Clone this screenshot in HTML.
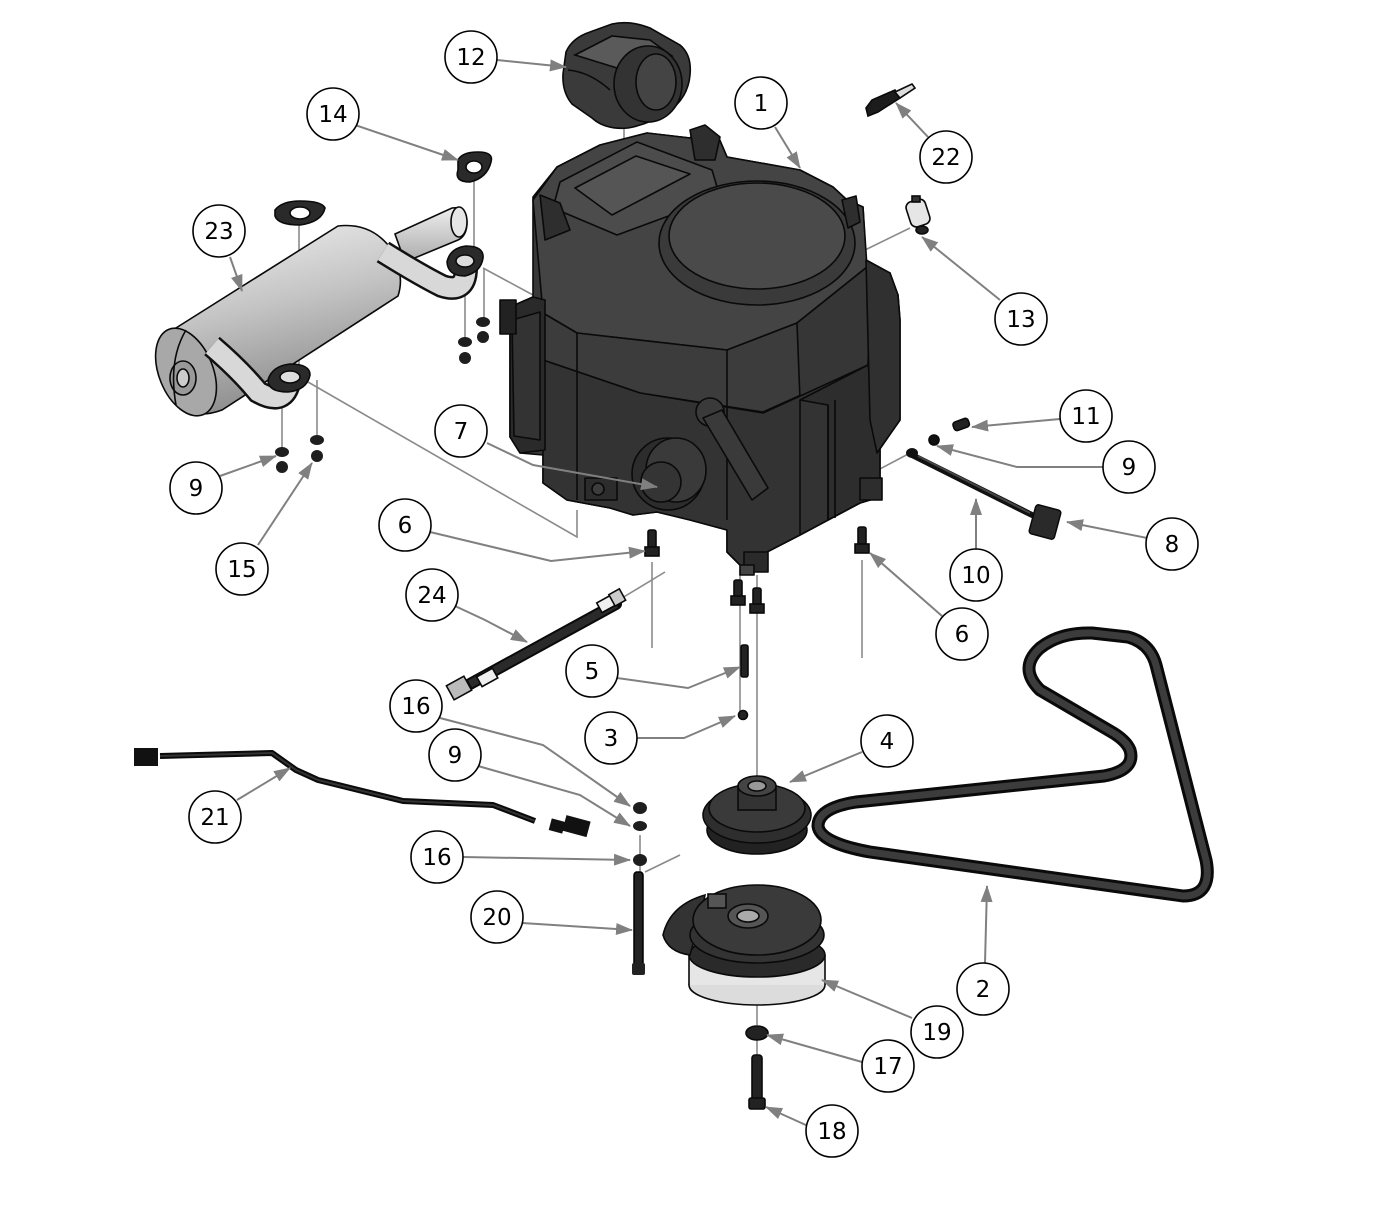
<!DOCTYPE html>
<html><head><meta charset="utf-8"><style>
html,body{margin:0;padding:0;background:#fff;}
svg{display:block;}
.c{fill:#fff;stroke:#000;stroke-width:1.6;}
.t{font-family:"DejaVu Sans","Liberation Sans",sans-serif;font-size:23px;fill:#000;text-anchor:middle;dominant-baseline:central;}
.ld{fill:none;stroke:#808080;stroke-width:2;}
.al{fill:none;stroke:#8a8a8a;stroke-width:1.6;}
.k{stroke:#0a0a0a;stroke-width:1.6;}
</style></head><body>
<svg width="1400" height="1211" viewBox="0 0 1400 1211" xmlns="http://www.w3.org/2000/svg">
<defs>
<marker id="a" markerWidth="18" markerHeight="12" refX="16" refY="6" orient="auto" markerUnits="userSpaceOnUse">
<path d="M0,0 L17,6 L0,12 Z" fill="#808080"/>
</marker>
<linearGradient id="mg" x1="0" y1="0" x2="0.3" y2="1">
<stop offset="0" stop-color="#f2f2f2"/><stop offset="0.5" stop-color="#c4c4c4"/><stop offset="1" stop-color="#8c8c8c"/>
</linearGradient>
<linearGradient id="pg" x1="0" y1="0" x2="0" y2="1">
<stop offset="0" stop-color="#eee"/><stop offset="1" stop-color="#aaa"/>
</linearGradient>
</defs>

<!-- assembly lines -->
<g class="al">
<line x1="624" y1="124" x2="624" y2="176"/>
<line x1="299" y1="224" x2="299" y2="368"/>
<line x1="474" y1="180" x2="474" y2="255"/>
<line x1="465" y1="274" x2="465" y2="342"/>
<line x1="484" y1="268" x2="484" y2="322"/>
<line x1="483" y1="268" x2="533" y2="295"/>
<line x1="282" y1="388" x2="282" y2="450"/>
<line x1="317" y1="380" x2="317" y2="438"/>
<polyline points="308,382 577,537 577,510"/>
<line x1="865" y1="250" x2="910" y2="228"/>
<line x1="878" y1="470" x2="912" y2="452"/>
<line x1="652" y1="562" x2="652" y2="648"/>
<line x1="862" y1="560" x2="862" y2="658"/>
<line x1="740" y1="570" x2="740" y2="712"/>
<line x1="757" y1="575" x2="757" y2="790"/>
<line x1="622" y1="598" x2="665" y2="572"/>
<line x1="640" y1="835" x2="640" y2="872"/>
<line x1="645" y1="872" x2="680" y2="855"/>
<line x1="757" y1="1003" x2="757" y2="1025"/>
<line x1="757" y1="1040" x2="757" y2="1055"/>
</g>

<!-- Part 12 -->
<g class="k">
<path d="M566,52 Q572,38 590,32 L612,24 Q630,20 650,28 L680,45 Q692,55 690,75 Q688,98 668,112 Q650,124 628,128 Q605,130 592,118 L572,104 Q562,92 563,74 Z" fill="#3a3a3a"/>
<path d="M575,55 L612,36 L650,40 L672,56 L630,72 Z" fill="#5a5a5a"/>
<ellipse cx="648" cy="84" rx="34" ry="38" fill="#333"/>
<ellipse cx="656" cy="82" rx="20" ry="28" fill="#444"/>
<path d="M568,70 Q590,72 610,90" fill="none"/>
</g>

<!-- Gaskets 14 & left -->
<g class="k">
<path d="M458,160 Q462,152 478,152 Q494,152 491,162 Q487,178 470,182 Q454,182 458,170 Z" fill="#2a2a2a"/>
<ellipse cx="474" cy="167" rx="8" ry="6" fill="#fff"/>
<path d="M275,210 Q282,201 300,201 Q322,201 325,208 Q322,222 300,225 Q278,225 275,216 Z" fill="#2a2a2a"/>
<ellipse cx="300" cy="213" rx="10" ry="6" fill="#fff"/>
</g>

<!-- Muffler -->
<g class="k">
<path d="M395,234 L452,208 Q466,206 467,222 Q467,236 458,240 L405,262 Z" fill="url(#pg)"/>
<ellipse cx="459" cy="222" rx="8" ry="15" fill="#e6e6e6"/>
<path d="M168,333 L338,226 Q372,222 392,250 Q405,275 398,296 L222,410 Q200,418 188,410 Z" fill="url(#mg)"/>
<ellipse cx="186" cy="372" rx="27" ry="46" transform="rotate(-22 186 372)" fill="#a8a8a8"/>
<ellipse cx="183" cy="378" rx="13" ry="17" fill="#999"/>
<ellipse cx="183" cy="378" rx="6" ry="9" fill="#ccc"/>
<path d="M186,330 Q168,360 176,405" fill="none"/>
</g>
<path d="M383,252 Q420,275 442,286 Q466,294 466,268" fill="none" stroke="#111" stroke-width="24"/>
<path d="M383,252 Q420,275 442,286 Q466,294 466,268" fill="none" stroke="#d8d8d8" stroke-width="19"/>
<path d="M212,346 Q240,370 258,392 Q286,408 290,378" fill="none" stroke="#111" stroke-width="24"/>
<path d="M212,346 Q240,370 258,392 Q286,408 290,378" fill="none" stroke="#d8d8d8" stroke-width="19"/>
<g class="k">
<path d="M447,262 Q450,248 466,246 Q484,246 483,258 Q481,272 465,276 Q448,276 447,262 Z" fill="#2a2a2a"/>
<ellipse cx="465" cy="261" rx="9" ry="6" fill="#ddd"/>
<path d="M268,380 Q272,366 290,364 Q310,364 310,375 Q307,390 288,392 Q268,392 268,380 Z" fill="#2a2a2a"/>
<ellipse cx="290" cy="377" rx="10" ry="6" fill="#ddd"/>
</g>
<!-- nuts -->
<g fill="#1e1e1e">
<ellipse cx="483" cy="322" rx="7" ry="5"/><ellipse cx="483" cy="337" rx="6" ry="6"/>
<ellipse cx="465" cy="342" rx="7" ry="5"/><ellipse cx="465" cy="358" rx="6" ry="6"/>
<ellipse cx="282" cy="452" rx="7" ry="5"/><ellipse cx="282" cy="467" rx="6" ry="6"/>
<ellipse cx="317" cy="440" rx="7" ry="5"/><ellipse cx="317" cy="456" rx="6" ry="6"/>
</g>

<!-- Engine -->
<g class="k" stroke-linejoin="round">
<path d="M533,197 L557,167 L600,145 L647,133 L690,138 L700,128 L718,136 L727,157 L800,170 L833,187 L847,200 L863,207 L866,260 L890,273 L898,295 L900,320 L900,420 L877,453 L880,480 L880,497 L860,503 L800,535 L767,552 L767,567 L747,572 L727,552 L727,530 L690,520 L657,512 L633,515 L610,508 L567,500 L543,483 L543,455 L520,453 L510,437 L510,307 L533,297 Z" fill="#383838"/>
<path d="M533,200 L557,167 L600,145 L647,133 L690,138 L700,128 L718,136 L727,157 L800,170 L833,187 L847,200 L863,207 L867,267 L797,323 L727,350 L577,333 L543,313 Z" fill="#444"/>
<path d="M543,313 L577,333 L727,350 L797,323 L867,267 L870,300 L868,365 L763,412 L640,393 L543,360 Z" fill="#3c3c3c"/>
<path d="M797,323 L867,267 L870,300 L868,365 L800,400 Z" fill="#363636"/>
<path d="M560,182 L637,142 L712,170 L720,197 L617,235 L553,208 Z" fill="#4c4c4c"/>
<path d="M575,188 L636,156 L690,174 L612,215 Z" fill="#555"/>
<ellipse cx="757" cy="243" rx="98" ry="62" fill="#3a3a3a"/>
<ellipse cx="757" cy="236" rx="88" ry="53" fill="#4a4a4a"/>
<path d="M543,360 L640,393 L763,413 L868,365 L880,420 L880,497 L860,503 L800,535 L767,552 L767,567 L747,572 L727,552 L727,530 L690,520 L657,512 L633,515 L610,508 L567,500 L543,483 Z" fill="#333"/>
<path d="M800,400 L868,365 L880,420 L880,497 L860,503 L828,520 L828,405 Z" fill="#2d2d2d"/>
<line x1="577" y1="333" x2="577" y2="500"/>
<line x1="727" y1="350" x2="727" y2="520"/>
<line x1="800" y1="400" x2="800" y2="535"/>
<line x1="828" y1="405" x2="828" y2="520"/>
<line x1="835" y1="400" x2="835" y2="518"/>
<path d="M866,260 L890,273 L898,295 L900,320 L900,420 L877,453 L870,420 Z" fill="#303030"/>
<path d="M510,307 L533,297 L545,300 L545,450 L520,453 L510,437 Z" fill="#2a2a2a"/>
<path d="M512,320 L540,312 L540,440 L514,436 Z" fill="#333"/>
<rect x="500" y="300" width="16" height="34" fill="#222"/>
<circle cx="710" cy="412" r="14" fill="#3a3a3a"/>
<path d="M703,418 L722,410 L768,488 L752,500 Z" fill="#3a3a3a"/>
<ellipse cx="668" cy="474" rx="36" ry="36" fill="#2c2c2c"/>
<ellipse cx="676" cy="470" rx="30" ry="32" fill="#3a3a3a"/>
<circle cx="661" cy="482" r="20" fill="#343434"/>
<rect x="585" y="478" width="32" height="22" fill="#2c2c2c"/>
<circle cx="598" cy="489" r="6" fill="#3c3c3c"/>
<rect x="744" y="552" width="24" height="20" fill="#2a2a2a"/>
<rect x="740" y="565" width="14" height="10" fill="#444"/>
<rect x="860" y="478" width="22" height="22" fill="#2d2d2d"/>
<path d="M540,195 L560,203 L570,230 L545,240 Z" fill="#2e2e2e"/>
<path d="M690,130 L705,125 L720,137 L715,160 L695,160 Z" fill="#2e2e2e"/>
<path d="M842,200 L856,196 L860,222 L848,228 Z" fill="#2e2e2e"/>
</g>

<!-- spark plug 22 -->
<g class="k">
<path d="M866,108 L872,100 L895,90 L900,98 L878,112 L868,116 Z" fill="#1c1c1c"/>
<path d="M895,92 L912,84 L915,88 L900,98 Z" fill="#ddd"/>
</g>
<!-- 13 -->
<g class="k">
<rect x="908" y="200" width="20" height="26" rx="6" transform="rotate(-18 918 213)" fill="#e6e6e6"/>
<ellipse cx="922" cy="230" rx="6" ry="4" fill="#222"/>
<rect x="912" y="196" width="8" height="6" fill="#333"/>
</g>
<!-- 11, 9, 10, 8 -->
<g class="k">
<rect x="953" y="420" width="16" height="9" rx="3" transform="rotate(-20 961 424)" fill="#222"/>
<circle cx="934" cy="440" r="5" fill="#111"/>
</g>
<line x1="912" y1="455" x2="1032" y2="515" stroke="#111" stroke-width="6" stroke-linecap="round"/>
<line x1="918" y1="456" x2="1030" y2="513" stroke="#444" stroke-width="2"/>
<ellipse cx="912" cy="453" rx="6" ry="5" fill="#111"/>
<rect x="1032" y="507" width="26" height="30" rx="3" transform="rotate(15 1045 522)" fill="#2a2a2a" stroke="#0a0a0a" stroke-width="1.5"/>

<!-- bolts 6 -->
<g class="k" fill="#222">
<rect x="648" y="530" width="8" height="22" rx="2"/><rect x="645" y="547" width="14" height="9"/>
<rect x="858" y="527" width="8" height="22" rx="2"/><rect x="855" y="544" width="14" height="9"/>
<rect x="734" y="580" width="8" height="20" rx="2"/><rect x="731" y="596" width="14" height="9"/>
<rect x="753" y="588" width="8" height="20" rx="2"/><rect x="750" y="604" width="14" height="9"/>
<rect x="741" y="645" width="7" height="32" rx="2"/>
<circle cx="743" cy="715" r="4.5"/>
</g>

<!-- 24 hose -->
<line x1="470" y1="684" x2="616" y2="604" stroke="#0a0a0a" stroke-width="12" stroke-linecap="round"/>
<line x1="470" y1="684" x2="616" y2="604" stroke="#2a2a2a" stroke-width="8"/>
<g class="k">
<rect x="598" y="598" width="18" height="11" transform="rotate(-29 607 603)" fill="#f0f0f0"/>
<rect x="611" y="591" width="12" height="13" transform="rotate(-29 617 597)" fill="#ccc"/>
<rect x="478" y="672" width="18" height="11" transform="rotate(-29 487 677)" fill="#f0f0f0"/>
<rect x="449" y="680" width="20" height="16" transform="rotate(-29 459 688)" fill="#bbb"/>
</g>

<!-- 4 pulley -->
<g class="k">
<ellipse cx="757" cy="830" rx="50" ry="24" fill="#222"/>
<ellipse cx="757" cy="815" rx="54" ry="28" fill="#2e2e2e"/>
<ellipse cx="757" cy="808" rx="48" ry="24" fill="#3a3a3a"/>
<rect x="738" y="786" width="38" height="24" fill="#333"/>
<ellipse cx="757" cy="786" rx="19" ry="10" fill="#444"/>
<ellipse cx="757" cy="786" rx="9" ry="5" fill="#999"/>
</g>

<!-- 2 belt -->
<path d="M1040,690 Q1018,668 1040,648 Q1060,632 1092,633 L1128,637 Q1150,643 1156,665 L1206,860 Q1213,896 1183,896 L870,852 Q820,843 818,826 Q818,808 856,802 L1104,776 Q1136,770 1130,750 Q1126,740 1110,731 Z" fill="none" stroke="#0a0a0a" stroke-width="13" stroke-linejoin="round"/>
<path d="M1040,690 Q1018,668 1040,648 Q1060,632 1092,633 L1128,637 Q1150,643 1156,665 L1206,860 Q1213,896 1183,896 L870,852 Q820,843 818,826 Q818,808 856,802 L1104,776 Q1136,770 1130,750 Q1126,740 1110,731 Z" fill="none" stroke="#3c3c3c" stroke-width="7" stroke-linejoin="round"/>

<!-- 16/9 washers & 20 -->
<g fill="#1e1e1e">
<ellipse cx="640" cy="808" rx="7" ry="6"/>
<ellipse cx="640" cy="826" rx="7" ry="5"/>
<ellipse cx="640" cy="860" rx="7" ry="6"/>
</g>
<rect x="634" y="872" width="9" height="98" rx="3" fill="#222" stroke="#000" stroke-width="1.5"/>
<rect x="632" y="963" width="13" height="12" rx="2" fill="#222"/>

<!-- 21 harness -->
<polyline points="160,756 272,753 296,770 318,780 403,801 493,805 535,821" fill="none" stroke="#0a0a0a" stroke-width="6" stroke-linejoin="round"/>
<polyline points="160,756 272,753 296,770 318,780 403,801 493,805 535,821" fill="none" stroke="#333" stroke-width="2"/>
<rect x="134" y="748" width="24" height="18" fill="#111"/>
<rect x="550" y="820" width="14" height="12" transform="rotate(15 557 826)" fill="#111"/>
<rect x="564" y="818" width="25" height="16" transform="rotate(15 576 826)" fill="#111"/>

<!-- 19 clutch -->
<g class="k">
<ellipse cx="757" cy="985" rx="68" ry="20" fill="#dcdcdc"/>
<rect x="689" y="955" width="136" height="30" fill="#e6e6e6" stroke="none"/>
<line x1="689" y1="955" x2="689" y2="985"/>
<line x1="825" y1="955" x2="825" y2="985"/>
<ellipse cx="757" cy="955" rx="68" ry="22" fill="#2a2a2a"/>
<path d="M705,895 Q670,905 663,935 Q668,952 690,955 L700,920 Z" fill="#333"/>
<ellipse cx="757" cy="935" rx="67" ry="28" fill="#333"/>
<ellipse cx="757" cy="920" rx="64" ry="35" fill="#3a3a3a"/>
<ellipse cx="748" cy="916" rx="20" ry="12" fill="#555"/>
<ellipse cx="748" cy="916" rx="11" ry="6" fill="#aaa"/>
<rect x="708" y="894" width="18" height="14" fill="#555"/>
</g>
<!-- 17, 18 -->
<g class="k" fill="#222">
<ellipse cx="757" cy="1033" rx="11" ry="7"/>
<rect x="752" y="1055" width="10" height="45" rx="3"/>
<rect x="749" y="1098" width="16" height="11" rx="2"/>
</g>

<!-- leaders -->
<g class="ld" marker-end="url(#a)">
<line x1="497" y1="60" x2="566" y2="67"/>
<line x1="775" y1="127" x2="800" y2="168"/>
<line x1="355" y1="125" x2="458" y2="160"/>
<line x1="928" y1="137" x2="896" y2="103"/>
<line x1="230" y1="257" x2="242" y2="291"/>
<line x1="1000" y1="300" x2="922" y2="237"/>
<line x1="1060" y1="419" x2="972" y2="427"/>
<polyline points="487,443 533,465 657,487"/>
<polyline points="1103,467 1017,467 937,446"/>
<line x1="1147" y1="538" x2="1067" y2="522"/>
<line x1="976" y1="549" x2="976" y2="499"/>
<line x1="942" y1="616" x2="870" y2="553"/>
<polyline points="430,532 551,561 645,551"/>
<polyline points="220,476 276,456"/>
<line x1="258" y1="545" x2="312" y2="463"/>
<polyline points="455,606 485,620 527,642"/>
<polyline points="617,678 688,688 740,667"/>
<polyline points="636,738 684,738 735,716"/>
<polyline points="440,718 543,745 630,806"/>
<polyline points="478,766 580,795 630,826"/>
<line x1="463" y1="857" x2="630" y2="860"/>
<line x1="522" y1="923" x2="632" y2="930"/>
<line x1="237" y1="800" x2="290" y2="768"/>
<line x1="862" y1="752" x2="790" y2="782"/>
<line x1="985" y1="963" x2="987" y2="886"/>
<line x1="912" y1="1018" x2="822" y2="980"/>
<line x1="862" y1="1062" x2="767" y2="1035"/>
<line x1="808" y1="1126" x2="766" y2="1107"/>
</g>

<!-- callouts -->
<g>
<circle class="c" cx="471" cy="57" r="26"/><text class="t" x="471" y="58">12</text>
<circle class="c" cx="761" cy="103" r="26"/><text class="t" x="761" y="104">1</text>
<circle class="c" cx="333" cy="114" r="26"/><text class="t" x="333" y="115">14</text>
<circle class="c" cx="946" cy="157" r="26"/><text class="t" x="946" y="158">22</text>
<circle class="c" cx="219" cy="231" r="26"/><text class="t" x="219" y="232">23</text>
<circle class="c" cx="1021" cy="319" r="26"/><text class="t" x="1021" y="320">13</text>
<circle class="c" cx="1086" cy="416" r="26"/><text class="t" x="1086" y="417">11</text>
<circle class="c" cx="461" cy="431" r="26"/><text class="t" x="461" y="432">7</text>
<circle class="c" cx="1129" cy="467" r="26"/><text class="t" x="1129" y="468">9</text>
<circle class="c" cx="196" cy="488" r="26"/><text class="t" x="196" y="489">9</text>
<circle class="c" cx="405" cy="525" r="26"/><text class="t" x="405" y="526">6</text>
<circle class="c" cx="1172" cy="544" r="26"/><text class="t" x="1172" y="545">8</text>
<circle class="c" cx="242" cy="569" r="26"/><text class="t" x="242" y="570">15</text>
<circle class="c" cx="976" cy="575" r="26"/><text class="t" x="976" y="576">10</text>
<circle class="c" cx="432" cy="595" r="26"/><text class="t" x="432" y="596">24</text>
<circle class="c" cx="962" cy="634" r="26"/><text class="t" x="962" y="635">6</text>
<circle class="c" cx="592" cy="671" r="26"/><text class="t" x="592" y="672">5</text>
<circle class="c" cx="416" cy="706" r="26"/><text class="t" x="416" y="707">16</text>
<circle class="c" cx="611" cy="738" r="26"/><text class="t" x="611" y="739">3</text>
<circle class="c" cx="887" cy="741" r="26"/><text class="t" x="887" y="742">4</text>
<circle class="c" cx="455" cy="755" r="26"/><text class="t" x="455" y="756">9</text>
<circle class="c" cx="215" cy="817" r="26"/><text class="t" x="215" y="818">21</text>
<circle class="c" cx="437" cy="857" r="26"/><text class="t" x="437" y="858">16</text>
<circle class="c" cx="497" cy="917" r="26"/><text class="t" x="497" y="918">20</text>
<circle class="c" cx="983" cy="989" r="26"/><text class="t" x="983" y="990">2</text>
<circle class="c" cx="937" cy="1032" r="26"/><text class="t" x="937" y="1033">19</text>
<circle class="c" cx="888" cy="1066" r="26"/><text class="t" x="888" y="1067">17</text>
<circle class="c" cx="832" cy="1131" r="26"/><text class="t" x="832" y="1132">18</text>
</g>
</svg>
</body></html>
